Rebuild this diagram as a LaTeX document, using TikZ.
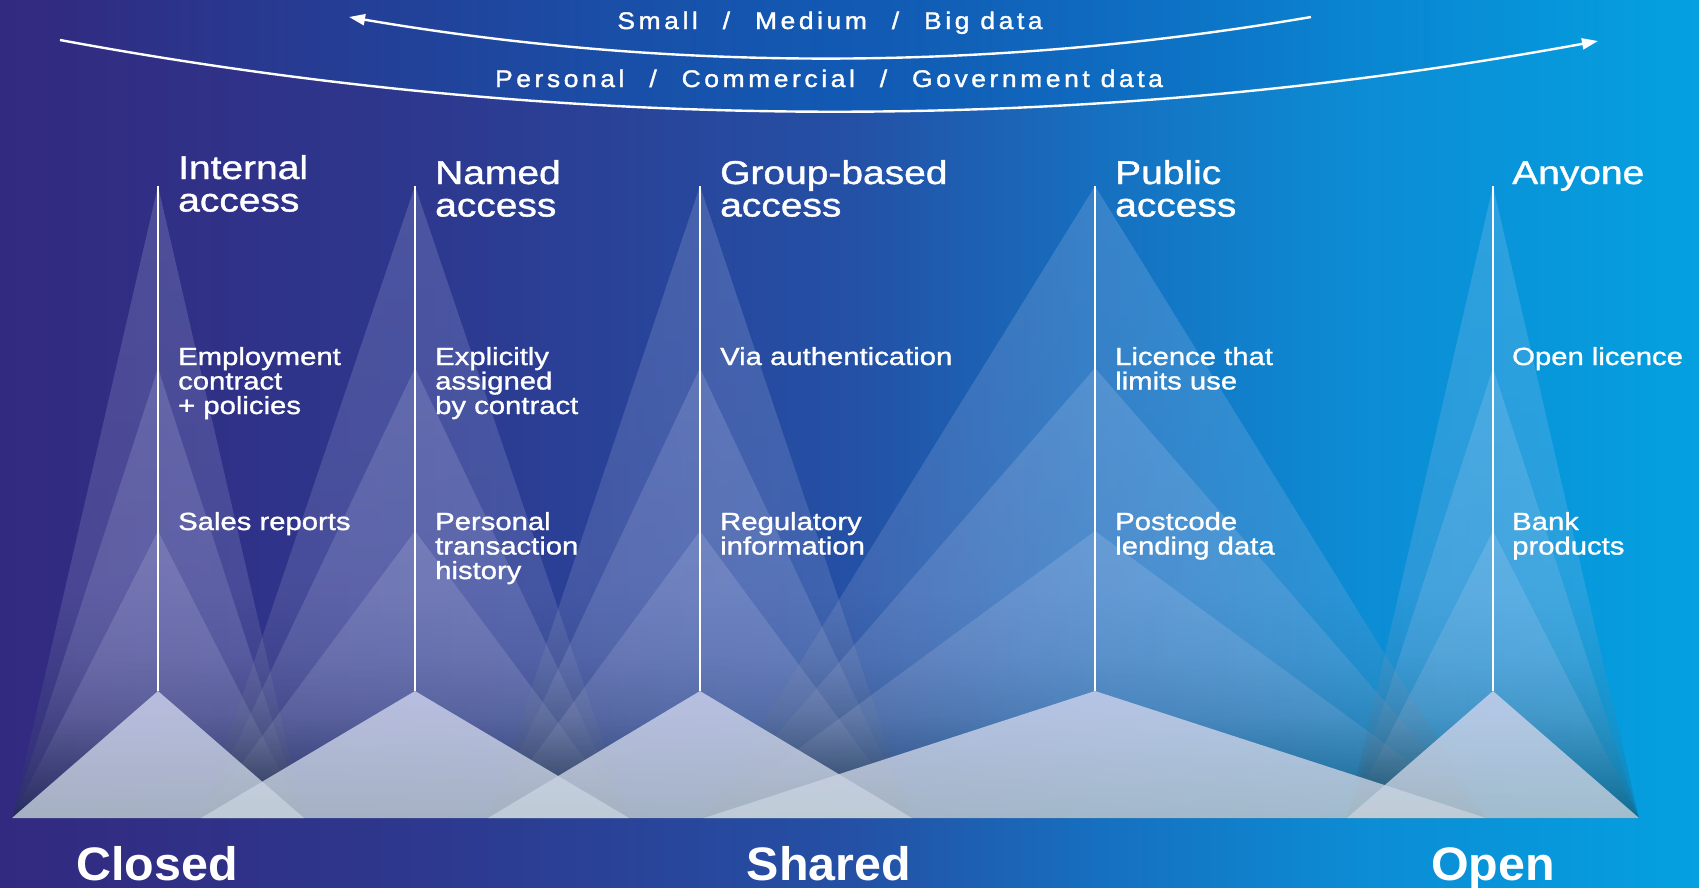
\documentclass[tikz,border=0pt]{standalone}
\usepackage{fontspec}
\setmainfont{Liberation Sans}
\newfontfamily\hfont[FakeStretch=1.18,FakeBold=1.2]{Liberation Sans}
\newfontfamily\bigfont[FakeStretch=1.03]{Liberation Sans Bold}
\newfontfamily\arcfont[FakeStretch=1.1,LetterSpace=15,FakeBold=1.5]{Liberation Sans}
\newcommand\arcgap{\hspace{14pt}}
\usetikzlibrary{arrows.meta,fadings}

\definecolor{bgA}{RGB}{50,42,128}
\definecolor{bgB}{RGB}{45,56,142}
\definecolor{bgC}{RGB}{36,80,165}
\definecolor{bgD}{RGB}{22,112,192}
\definecolor{bgE}{RGB}{12,140,212}
\definecolor{bgF}{RGB}{4,160,224}
\definecolor{glowblue}{RGB}{0,100,195}
\definecolor{beamT}{RGB}{228,230,255}
\definecolor{beamM}{RGB}{195,200,232}
\definecolor{beamB}{RGB}{25,45,50}
\definecolor{footT}{RGB}{206,211,238}
\definecolor{footB}{RGB}{198,210,220}

\pgfdeclarehorizontalshading{bgshade}{100bp}{color(0bp)=(bgA); color(25bp)=(bgA); color(37.5bp)=(bgB); color(50bp)=(bgC); color(57.5bp)=(bgD); color(65bp)=(bgE); color(75bp)=(bgF); color(100bp)=(bgF)}
\pgfdeclareverticalshading{beamshade}{100bp}{color(0bp)=(beamB); color(25bp)=(beamB); color(43bp)=(beamM); color(75bp)=(beamT); color(100bp)=(beamT)}
\pgfdeclareverticalshading{footshade}{100bp}{color(0bp)=(footB); color(25bp)=(footB); color(75bp)=(footT); color(100bp)=(footT)}
\tikzfading[name=bandfade, left color=transparent!100, right color=transparent!100, middle color=transparent!50]

\tikzset{
  beam/.style={shading=beamshade, fill opacity=0.17},
  foot/.style={shading=footshade, fill opacity=0.8},
  pole/.style={draw=white, line width=2.6pt},
  arcline/.style={draw=white, line width=2.4pt, -{Triangle[length=16pt,width=11pt]}},
  hd/.style={font=\hfont\fontsize{33}{32.5}\selectfont, text=white, anchor=base west, inner sep=0pt, align=left},
  bd/.style={font=\hfont\fontsize{24.8}{24.5}\selectfont, text=white, anchor=base west, inner sep=0pt, align=left},
  big/.style={font=\bigfont\fontsize{47}{47}\selectfont, text=white, anchor=base, inner sep=0pt},
  arcl/.style={font=\arcfont\fontsize{24}{24}\selectfont, text=white, anchor=base, inner sep=0pt}
}

\begin{document}
\begin{tikzpicture}[x=1pt,y=-1pt]
\useasboundingbox (0,0) rectangle (1699,887);
\shade[shading=bgshade] (0,0) rectangle (1699,887);

% brighter band above the lower arc
\fill[glowblue, path fading=bandfade] (60,40) .. controls (573,135) and (1085,135) .. (1598,41) -- (1598,0) -- (60,0) -- cycle;

% light beams (three nested triangles per column)
\foreach \cx/\hw in {158/146,415/214,700/212,1095/391,1493/146}{
  \foreach \ay in {186,368,531}{
    \shade[beam] (\cx-\hw,818) -- (\cx,\ay) -- (\cx+\hw,818) -- cycle;
  }
}
% bottom triangles
\foreach \cx/\hw in {158/146,415/214,700/212,1095/391,1493/146}{
  \shade[foot] (\cx-\hw,818) -- (\cx,691) -- (\cx+\hw,818) -- cycle;
}
% poles
\foreach \cx [count=\i] in {158,415,700,1095,1493}{
  \coordinate (ptop\i) at (\cx,186);
  \coordinate (pbot\i) at (\cx,691);
  \draw[pole] (ptop\i) -- (pbot\i);
}

% arcs
\coordinate (a1s) at (1311,17);
\coordinate (a1e) at (349,17);
\draw[arcline] (a1s) .. controls (990,72) and (670,72) .. (a1e);
\coordinate (a2s) at (60,40);
\coordinate (a2e) at (1598,41);
\draw[arcline] (a2s) .. controls (573,135) and (1085,135) .. (a2e);

\node[arcl] (t1) at (830,29) {Small\arcgap{} / \arcgap Medium\arcgap{} / \arcgap Big data};
\node[arcl] (t2) at (829,87) {Personal\arcgap{} / \arcgap Commercial\arcgap{} / \arcgap Government data};

% headers (anchor = baseline of last line)
\node[hd] (h1) at (178,211.5) {Internal\\access};
\node[hd] (h2) at (435,216.5) {Named\\access};
\node[hd] (h3) at (720,216.5) {Group-based\\access};
\node[hd] (h4) at (1115,216.5) {Public\\access};
\node[hd] (h5) at (1512,184) {Anyone};

\node[bd] (c1) at (178,414) {Employment\\contract\\+ policies};
\node[bd] (c2) at (435,414) {Explicitly\\assigned\\by contract};
\node[bd] (c3) at (720,365) {Via authentication};
\node[bd] (c4) at (1115,389.5) {Licence that\\limits use};
\node[bd] (c5) at (1512,365) {Open licence};

\node[bd] (e1) at (178,530) {Sales reports};
\node[bd] (e2) at (435,579) {Personal\\transaction\\history};
\node[bd] (e3) at (720,554.5) {Regulatory\\information};
\node[bd] (e4) at (1115,554.5) {Postcode\\lending data};
\node[bd] (e5) at (1512,554.5) {Bank\\products};

\node[big] (k1) at (157,880) {Closed};
\node[big] (k2) at (829,880) {Shared};
\node[big] (k3) at (1493,880) {Open};
\end{tikzpicture}
\end{document}
